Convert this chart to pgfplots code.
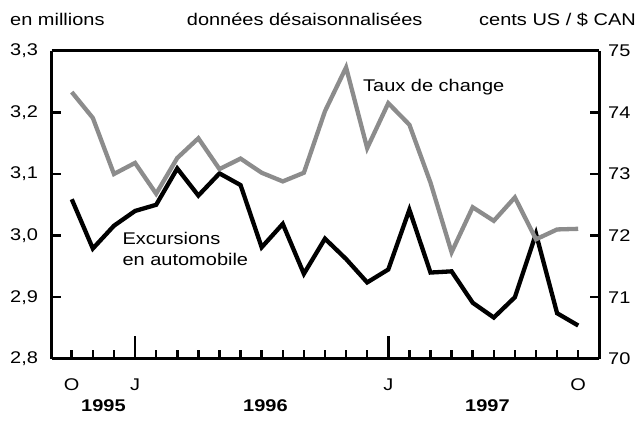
\documentclass[border=0pt]{standalone}
\usepackage{fontspec}
\setmainfont{Liberation Sans}[FakeStretch=1.18]
\usepackage{pgfplots}
\pgfplotsset{compat=1.18}
\definecolor{lgray}{RGB}{140,140,140}
\begin{document}
\fontsize{17}{20}\selectfont
\begin{tikzpicture}[x=1bp,y=1bp]
\useasboundingbox (0,0) rectangle (637,421);
\pgfplotsset{
  myaxis/.style={
    at={(51.7bp,62.2bp)}, anchor=south west,
    scale only axis, width=547.6bp, height=308bp,
    xmin=-0.95, xmax=25,
    axis line style={line width=3bp},
    every tick/.style={black, line width=2.5bp},
    major tick length=9bp,
    tick align=inside,
    /pgf/number format/assume math mode=true,
    tick label style={font=\fontsize{17}{20}\selectfont},
  }
}
\begin{axis}[myaxis, clip=false,
  ymin=2.8, ymax=3.3,
  axis y line*=left, axis x line*=box,
  xtick={0,...,24},
  xticklabels={O,,,J,,,,,,,,,,,,J,,,,,,,,,O},
  xtick pos=bottom,
  extra x ticks={3,15},
  extra x tick labels={},
  extra x tick style={major tick length=23bp},
  xticklabel style={anchor=base, inner sep=0pt, yshift=-31.2bp},
  ytick={2.8,2.9,3.0,3.1,3.2,3.3},
  ytick pos=left,
  yticklabel style={/pgf/number format/use comma, /pgf/number format/fixed, /pgf/number format/fixed zerofill, /pgf/number format/precision=1, anchor=east, inner sep=0pt, xshift=-13.5bp},
]
\addplot[black, line width=4.3bp] coordinates {
(0,3.059) (1,2.979) (2,3.016) (3,3.040) (4,3.050) (5,3.109) (6,3.065)
(7,3.101) (8,3.082) (9,2.981) (10,3.019) (11,2.938) (12,2.995)
(13,2.962) (14,2.924) (15,2.945) (16,3.042) (17,2.940) (18,2.942)
(19,2.891) (20,2.867) (21,2.900) (22,3.003) (23,2.874) (24,2.854)
};
\node[anchor=base west, inner sep=0pt, align=left] at (axis cs:2.4,2.985) {Excursions};
\node[anchor=base west, inner sep=0pt] at (axis cs:2.4,2.951) {en automobile};
\node[anchor=base, inner sep=0pt, font=\bfseries] at (axis cs:1.5,2.8) [yshift=-52.9bp] {1995};
\node[anchor=base, inner sep=0pt, font=\bfseries] at (axis cs:9.18,2.8) [yshift=-52.9bp] {1996};
\node[anchor=base, inner sep=0pt, font=\bfseries] at (axis cs:19.7,2.8) [yshift=-52.9bp] {1997};
\end{axis}
\begin{axis}[myaxis,
  ymin=70, ymax=75,
  axis y line*=right,
  axis x line=none,
  ytick={70,71,72,73,74,75},
  yticklabel style={anchor=west, inner sep=0pt, xshift=8.7bp},
]
\addplot[lgray, line width=4.3bp] coordinates {
(0,74.33) (1,73.91) (2,73.00) (3,73.18) (4,72.68) (5,73.26) (6,73.58)
(7,73.08) (8,73.25) (9,73.02) (10,72.88) (11,73.02) (12,74.02)
(13,74.73) (14,73.42) (15,74.15) (16,73.80) (17,72.86) (18,71.73)
(19,72.46) (20,72.24) (21,72.62) (22,71.94) (23,72.10) (24,72.11)
};
\node[anchor=base west, inner sep=0pt] at (axis cs:13.8,74.34) {Taux de change};
\end{axis}
\node[anchor=base west, inner sep=0pt] at (10,395) {en millions};
\node[anchor=base west, inner sep=0pt] at (186.7,395) {données désaisonnalisées};
\node[anchor=base east, inner sep=0pt] at (636,395) {cents US / \$ CAN};
\end{tikzpicture}
\end{document}
